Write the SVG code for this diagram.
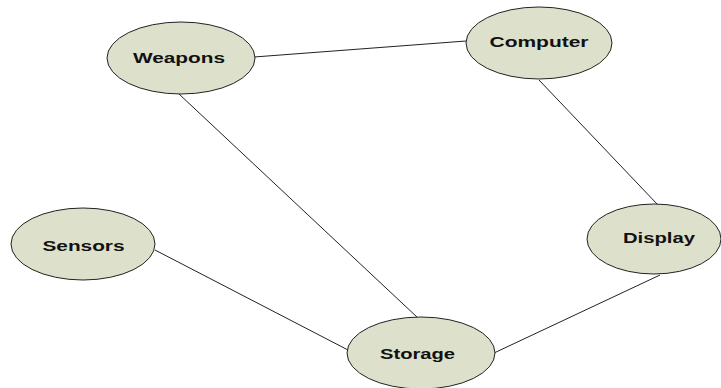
<svg xmlns="http://www.w3.org/2000/svg" width="721" height="388" viewBox="0 0 721 388">
  <style>
    .node ellipse { fill: #dde0cb; stroke: #222; stroke-width: 1; }
    .node text { font-family: "Liberation Sans", Arial, sans-serif; font-weight: bold; font-size: 14px; fill: #111; text-anchor: middle; }
    .edges line { stroke: #222; stroke-width: 1; }
  </style>
  <rect width="721" height="388" fill="#fff"/>
  <g class="edges">
    <line x1="254" y1="57" x2="466" y2="41"/>
    <line x1="179" y1="94" x2="418" y2="318"/>
    <line x1="539" y1="80" x2="658" y2="205"/>
    <line x1="155" y1="250" x2="348" y2="350"/>
    <line x1="494" y1="353" x2="660" y2="275"/>
  </g>
  <g id="weapons" class="node">
    <ellipse cx="181" cy="58" rx="74" ry="36"/>
    <text x="179" y="63" textLength="92" lengthAdjust="spacingAndGlyphs">Weapons</text>
  </g>
  <g id="computer" class="node">
    <ellipse cx="539" cy="43" rx="73" ry="36"/>
    <text x="539" y="47" textLength="99" lengthAdjust="spacingAndGlyphs">Computer</text>
  </g>
  <g id="sensors" class="node">
    <ellipse cx="83" cy="244" rx="72" ry="36"/>
    <text x="83.5" y="251" textLength="82" lengthAdjust="spacingAndGlyphs">Sensors</text>
  </g>
  <g id="display" class="node">
    <ellipse cx="654" cy="239" rx="67" ry="35"/>
    <text x="659" y="243" textLength="72" lengthAdjust="spacingAndGlyphs">Display</text>
  </g>
  <g id="storage" class="node">
    <ellipse cx="421" cy="353" rx="74" ry="36"/>
    <text x="417.5" y="359" textLength="75" lengthAdjust="spacingAndGlyphs">Storage</text>
  </g>
</svg>
